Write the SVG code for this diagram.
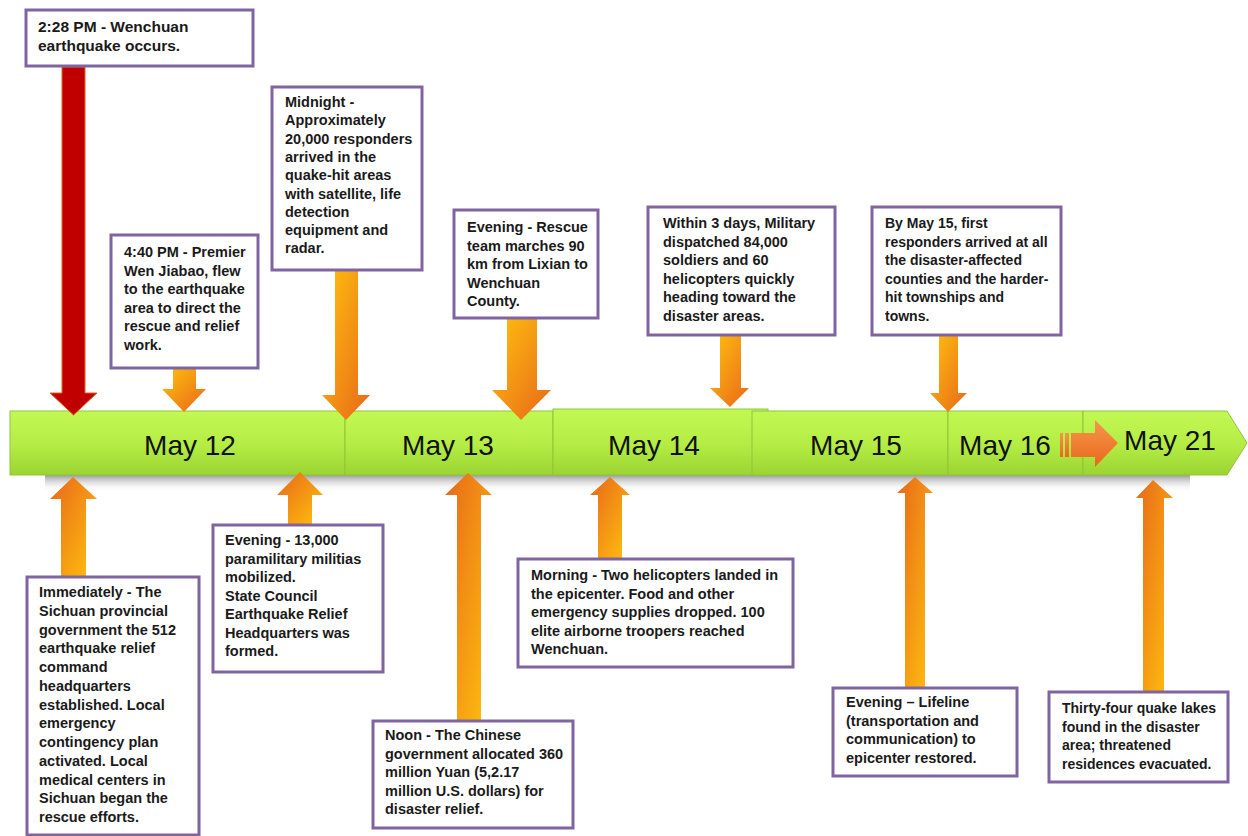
<svg xmlns="http://www.w3.org/2000/svg" width="1248" height="836" viewBox="0 0 1248 836">
<defs>
<linearGradient id="barG" x1="0" y1="0" x2="0" y2="1">
<stop offset="0" stop-color="#c2f852"/><stop offset="0.55" stop-color="#b4ec45"/><stop offset="1" stop-color="#9bd431"/>
</linearGradient>
<linearGradient id="shadowG" x1="0" y1="0" x2="0" y2="1">
<stop offset="0" stop-color="#9a9a9a"/><stop offset="1" stop-color="#ffffff" stop-opacity="0"/>
</linearGradient>
<linearGradient id="downG" x1="0" y1="0" x2="1" y2="1">
<stop offset="0" stop-color="#ffc20e"/><stop offset="1" stop-color="#e8671a"/>
</linearGradient>
<linearGradient id="upG" x1="0" y1="0" x2="1" y2="1">
<stop offset="0" stop-color="#e8671a"/><stop offset="1" stop-color="#ffc20e"/>
</linearGradient>
<linearGradient id="rightG" x1="0" y1="0" x2="0" y2="1">
<stop offset="0" stop-color="#f7964a"/><stop offset="1" stop-color="#e8681c"/>
</linearGradient>
</defs>
<style>
.seg{fill:url(#barG);stroke:#8dc63f;stroke-width:1}
.date{font-family:"Liberation Sans",Arial,sans-serif;font-size:28px;fill:#111}
.box{fill:#fff;stroke:#8064a2;stroke-width:3}
.t{font-family:"Liberation Sans",Arial,sans-serif;font-weight:bold;font-size:14.5px;fill:#1a1a1a}
.down{fill:url(#downG)}
.up{fill:url(#upG)}
</style>
<rect width="1248" height="836" fill="#fff"/>

<!-- bar shadow -->
<rect x="45" y="475" width="1145" height="17" fill="url(#shadowG)"/>

<g id="timeline">
<g id="seg-may12"><rect class="seg" x="10" y="411" width="335" height="64"/><text class="date" x="190" y="455" text-anchor="middle">May 12</text></g>
<g id="seg-may13"><rect class="seg" x="345" y="411" width="208" height="64"/><text class="date" x="448" y="455" text-anchor="middle">May 13</text></g>
<g id="seg-may14"><rect class="seg" x="553" y="409" width="215" height="66"/><text class="date" x="654" y="455" text-anchor="middle">May 14</text></g>
<g id="seg-may15"><rect class="seg" x="752" y="411" width="196" height="64"/><text class="date" x="856" y="455" text-anchor="middle">May 15</text></g>
<g id="seg-may16"><rect class="seg" x="948" y="411" width="135" height="64"/><text class="date" x="1005" y="455" text-anchor="middle">May 16</text></g>
<g id="seg-may21"><path class="seg" d="M1083,411 H1227 L1247,443 L1227,475 H1083 Z"/><text class="date" x="1170" y="450" text-anchor="middle">May 21</text></g>
</g>

<g id="connectors">
<path d="M62,67 H85 V393 H97 L73.5,415 L50,393 H62 Z" fill="#c00000" stroke="#e0601a" stroke-width="1"/>
<path class="down" d="M173,368 H196 V389 H206 L184,412 L162,389 H173 Z"/>
<path class="down" d="M335,270 H358 V395 H370 L346,420 L322,395 H335 Z"/>
<path class="down" d="M507,318 H537 V390 H551 L521,420 L492,390 H507 Z"/>
<path class="down" d="M720,335 H741 V388 H749 L730,407 L710,388 H720 Z"/>
<path class="down" d="M939,335 H958 V393 H967 L948,412 L930,393 H939 Z"/>
<path class="up" d="M61,577 H86 V499 H97 L73,477 L50,499 H61 Z"/>
<path class="up" d="M288,525 H312 V495 H323 L300,472 L277,495 H288 Z"/>
<path class="up" d="M457,721 H481 V495 H492 L468,473 L445,495 H457 Z"/>
<path class="up" d="M598,559 H622 V495 H630 L610,477 L590,495 H598 Z"/>
<path class="up" d="M905,688 H925 V493 H933 L915,477 L897,493 H905 Z"/>
<path class="up" d="M1143,692 H1164 V498 H1173 L1153,480 L1136,498 H1143 Z"/>
<g id="arrow-may16-may21" fill="url(#rightG)">
<rect x="1060" y="433" width="3" height="24"/>
<rect x="1065" y="433" width="4" height="24"/>
<path d="M1071,433 H1095 V420 L1118,443 L1095,467 V457 H1071 Z"/>
</g>
</g>

<g id="box-quake">
<rect class="box" x="26" y="10" width="227" height="56"/>
<text class="t" style="font-size:15.5px" x="38"><tspan x="38" y="32">2:28 PM - Wenchuan</tspan><tspan x="38" y="51">earthquake occurs.</tspan></text>
</g>

<g id="box-premier">
<rect class="box" x="111" y="235" width="147" height="133"/>
<text class="t"><tspan x="124" y="257">4:40 PM - Premier</tspan><tspan x="124" y="275.6">Wen Jiabao, flew</tspan><tspan x="124" y="294.2">to the earthquake</tspan><tspan x="124" y="312.8">area to direct the</tspan><tspan x="124" y="331.4">rescue and relief</tspan><tspan x="124" y="350">work.</tspan></text>
</g>

<g id="box-midnight">
<rect class="box" x="272" y="87" width="150" height="183"/>
<text class="t"><tspan x="285" y="107">Midnight -</tspan><tspan x="285" y="125.3">Approximately</tspan><tspan x="285" y="143.6">20,000 responders</tspan><tspan x="285" y="161.9">arrived in the</tspan><tspan x="285" y="180.2">quake-hit areas</tspan><tspan x="285" y="198.5">with satellite, life</tspan><tspan x="285" y="216.8">detection</tspan><tspan x="285" y="235.1">equipment and</tspan><tspan x="285" y="253.4">radar.</tspan></text>
</g>

<g id="box-rescue-team">
<rect class="box" x="454" y="210" width="144" height="108"/>
<text class="t"><tspan x="467" y="232">Evening - Rescue</tspan><tspan x="467" y="250.5">team marches 90</tspan><tspan x="467" y="269">km from Lixian to</tspan><tspan x="467" y="287.5">Wenchuan</tspan><tspan x="467" y="306">County.</tspan></text>
</g>

<g id="box-military">
<rect class="box" x="648" y="207" width="187" height="128"/>
<text class="t"><tspan x="663" y="228">Within 3 days, Military</tspan><tspan x="663" y="246.6">dispatched 84,000</tspan><tspan x="663" y="265.2">soldiers and 60</tspan><tspan x="663" y="283.8">helicopters quickly</tspan><tspan x="663" y="302.4">heading toward the</tspan><tspan x="663" y="321">disaster areas.</tspan></text>
</g>

<g id="box-may15">
<rect class="box" x="872" y="207" width="189" height="128"/>
<text class="t" style="font-size:14px"><tspan x="885" y="228">By May 15, first</tspan><tspan x="885" y="246.6">responders arrived at all</tspan><tspan x="885" y="265.2">the disaster-affected</tspan><tspan x="885" y="283.8">counties and the harder-</tspan><tspan x="885" y="302.4">hit townships and</tspan><tspan x="885" y="321">towns.</tspan></text>
</g>

<g id="box-immediately">
<rect class="box" x="27" y="577" width="172" height="258"/>
<text class="t"><tspan x="39" y="597">Immediately - The</tspan><tspan x="39" y="615.75">Sichuan provincial</tspan><tspan x="39" y="634.5">government the 512</tspan><tspan x="39" y="653.25">earthquake relief</tspan><tspan x="39" y="672">command</tspan><tspan x="39" y="690.75">headquarters</tspan><tspan x="39" y="709.5">established. Local</tspan><tspan x="39" y="728.25">emergency</tspan><tspan x="39" y="747">contingency plan</tspan><tspan x="39" y="765.75">activated. Local</tspan><tspan x="39" y="784.5">medical centers in</tspan><tspan x="39" y="803.25">Sichuan began the</tspan><tspan x="39" y="822">rescue efforts.</tspan></text>
</g>

<g id="box-militias">
<rect class="box" x="213" y="525" width="170" height="147"/>
<text class="t"><tspan x="225" y="545">Evening - 13,000</tspan><tspan x="225" y="563.5">paramilitary militias</tspan><tspan x="225" y="582">mobilized.</tspan><tspan x="225" y="600.5">State Council</tspan><tspan x="225" y="619">Earthquake Relief</tspan><tspan x="225" y="637.5">Headquarters was</tspan><tspan x="225" y="656">formed.</tspan></text>
</g>

<g id="box-noon">
<rect class="box" x="373" y="721" width="200" height="107"/>
<text class="t"><tspan x="385" y="740">Noon - The Chinese</tspan><tspan x="385" y="758.5">government allocated 360</tspan><tspan x="385" y="777">million Yuan (5,2.17</tspan><tspan x="385" y="795.5">million U.S. dollars) for</tspan><tspan x="385" y="814">disaster relief.</tspan></text>
</g>

<g id="box-morning">
<rect class="box" x="518" y="559" width="275" height="108"/>
<text class="t"><tspan x="531" y="580">Morning - Two helicopters landed in</tspan><tspan x="531" y="598.5">the epicenter. Food and other</tspan><tspan x="531" y="617">emergency supplies dropped. 100</tspan><tspan x="531" y="635.5">elite airborne troopers reached</tspan><tspan x="531" y="654">Wenchuan.</tspan></text>
</g>

<g id="box-lifeline">
<rect class="box" x="833" y="688" width="184" height="88"/>
<text class="t"><tspan x="846" y="707">Evening – Lifeline</tspan><tspan x="846" y="725.5">(transportation and</tspan><tspan x="846" y="744">communication) to</tspan><tspan x="846" y="762.5">epicenter restored.</tspan></text>
</g>

<g id="box-lakes">
<rect class="box" x="1049" y="692" width="179" height="90"/>
<text class="t" style="font-size:14px"><tspan x="1062" y="713">Thirty-four quake lakes</tspan><tspan x="1062" y="731.5">found in the disaster</tspan><tspan x="1062" y="750">area; threatened</tspan><tspan x="1062" y="768.5">residences evacuated.</tspan></text>
</g>
</svg>
